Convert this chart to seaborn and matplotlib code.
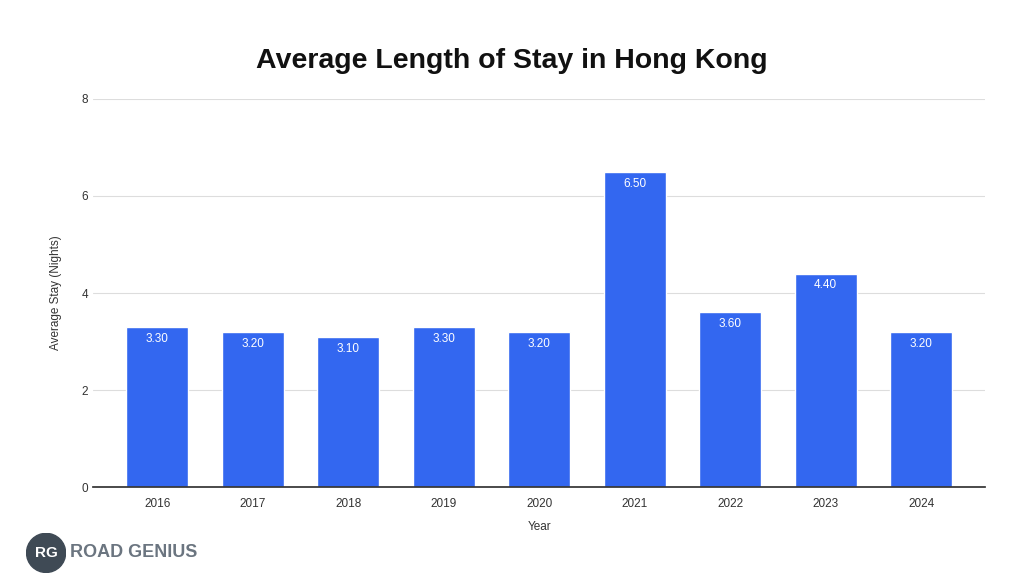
import matplotlib.pyplot as plt
import seaborn as sns
import pandas as pd
from matplotlib.patches import Circle

sns.set_theme(style="white")
plt.rcParams['font.family'] = ['Liberation Sans', 'DejaVu Sans']

# Data
years = ['2016', '2017', '2018', '2019', '2020', '2021', '2022', '2023', '2024']
avg_stay = [3.30, 3.20, 3.10, 3.30, 3.20, 6.50, 3.60, 4.40, 3.20]
df = pd.DataFrame({'Year': years, 'Stay': avg_stay})

fig = plt.figure(figsize=(10.24, 5.82), dpi=100)
ax = fig.add_axes([0.091, 0.163, 0.871, 0.667])

sns.barplot(data=df, x='Year', y='Stay', color='#3367F0', width=0.65,
            saturation=1, ax=ax)

for p, v in zip(ax.patches, avg_stay):
    ax.text(p.get_x() + p.get_width() / 2, v - 0.12, f'{v:.2f}',
            ha='center', va='top', color='white', fontsize=8.5)

ax.set_xlim(-0.67, 8.67)
ax.set_ylim(0, 8)
ax.set_yticks([0, 2, 4, 6, 8])
ax.yaxis.grid(True, color='#dddddd', linewidth=0.8)
ax.set_axisbelow(True)
for s in ['top', 'right', 'left']:
    ax.spines[s].set_visible(False)
ax.spines['bottom'].set_color('#333333')
ax.tick_params(axis='both', labelsize=8.5, colors='#333333', length=0)
ax.tick_params(axis='x', pad=8)
ax.set_xlabel('Year', fontsize=8.5, color='#333333', labelpad=8)
ax.set_ylabel('Average Stay (Nights)', fontsize=8.5, color='#333333', labelpad=14)

fig.text(0.5, 0.895, 'Average Length of Stay in Hong Kong', ha='center',
         va='center', fontsize=20.5, fontweight='bold', color='#111111')

# logo
logo = fig.add_axes([0.025, 0.015, 0.04, 0.07])
logo.set_xlim(0, 1); logo.set_ylim(0, 1); logo.set_aspect('equal'); logo.axis('off')
logo.add_patch(Circle((0.5, 0.5), 0.48, color='#3f4a55'))
logo.text(0.5, 0.5, 'RG', ha='center', va='center', color='white',
          fontsize=11, fontweight='bold')
fig.text(0.068, 0.05, 'ROAD GENIUS', ha='left', va='center', fontsize=13,
         fontweight='bold', color='#6b7580')

fig.savefig('out.png', dpi=100)
